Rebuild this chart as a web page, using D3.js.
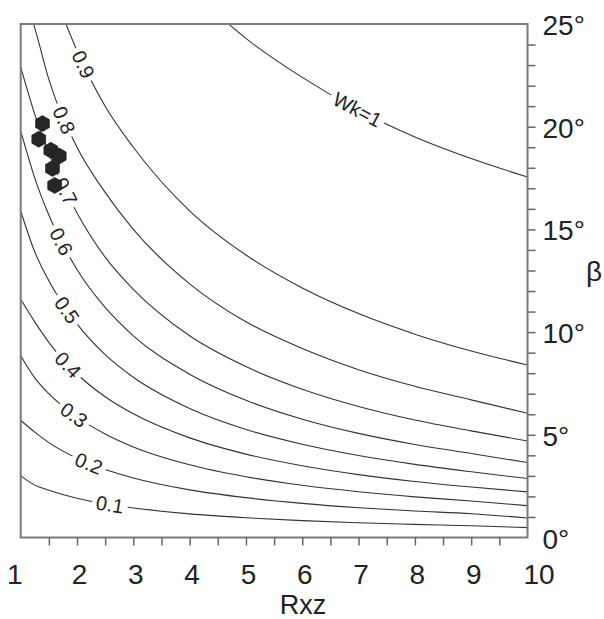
<!DOCTYPE html>
<html><head><meta charset="utf-8">
<script src="https://cdn.jsdelivr.net/npm/d3@7"></script>
<style>body{margin:0;background:#fff} svg{display:block}</style>
</head><body><svg id="c" width="604" height="619"></svg>
<script>
// ---- data ----
const rxzGrid = [1, 1.25, 1.5, 2, 2.5, 3, 4, 5, 6, 7, 8, 9, 10];
const betaWk01 = [3.0, 2.55, 2.30, 1.91, 1.64, 1.44, 1.15, 0.96, 0.82, 0.72, 0.64, 0.57, 0.48];
const betaWk02 = [5.7, 5.13, 4.62, 3.86, 3.31, 2.90, 2.32, 1.94, 1.66, 1.45, 1.29, 1.16, 0.95];
const betaWk03 = [8.85, 7.77, 7.0, 5.86, 5.04, 4.41, 3.54, 2.96, 2.54, 2.23, 1.98, 1.78, 1.55];
const betaWk04 = [11.6, 10.5, 9.5, 7.96, 6.85, 6.02, 4.85, 4.06, 3.49, 3.06, 2.73, 2.46, 2.22];
const betaWk05 = [15.9, 13.9, 12.5, 10.4, 8.9, 7.8, 6.28, 5.26, 4.54, 3.99, 3.56, 3.2, 2.87];
const betaWk06 = [19.8, 17.5, 15.7, 13.05, 11.2, 9.82, 7.95, 6.68, 5.76, 5.07, 4.53, 4.09, 3.65];
const betaWk07 = [22.9, 20.6, 18.7, 15.8, 13.65, 12.08, 9.82, 8.32, 7.22, 6.38, 5.72, 5.19, 4.7];
const betaWk08 = [26.8, 24.8, 22.3, 19.0, 16.8, 15.0, 12.35, 10.5, 9.2, 8.17, 7.36, 6.7, 6.05];
const betaWk09 = [32.1, 29.5, 27.3, 23.7, 21.0, 19.0, 15.9, 13.75, 12.15, 10.9, 9.9, 9.08, 8.4];
const betaWk10 = [45, 41.8, 39.2, 35.3, 32.3, 30.0, 26.8, 24.3, 22.4, 20.8, 19.5, 18.45, 17.55];
const contourLabels = ["0.1", "0.2", "0.3", "0.4", "0.5", "0.6", "0.7", "0.8", "0.9", "Wk=1"];
const labelRxz = [2.585, 2.21, 1.945, 1.84, 1.82, 1.72, 1.8, 1.77, 2.11, 6.98];
const markerRxz = [1.387, 1.321, 1.535, 1.684, 1.564, 1.603];
const markerBeta = [20.15, 19.39, 18.85, 18.57, 17.97, 17.14];
const xTickLabels = [1, 2, 3, 4, 5, 6, 7, 8, 9, 10];
const yTickLabels = [0, 5, 10, 15, 20, 25];
const xMinorTicks = [1.5, 2, 2.5, 3, 3.5, 4, 4.5, 5, 5.5, 6, 6.5, 7, 7.5, 8, 8.5, 9, 9.5];
const yMinorTicks = [1, 2, 3, 4, 5, 6, 7, 8, 9, 10, 11, 12, 13, 14, 15, 16, 17, 18, 19, 20, 21, 22, 23, 24];
const xTitle = "Rxz";
const yTitle = "β";

const contours = [betaWk01, betaWk02, betaWk03, betaWk04, betaWk05, betaWk06, betaWk07, betaWk08, betaWk09, betaWk10];

// ---- drawing ----
const FONT = "'Liberation Sans', Arial, Helvetica, sans-serif";
const svg = d3.select("#c");
const x = d3.scaleLinear().domain([1, 10]).range([20.7, 527.5]);
const y = d3.scaleLinear().domain([0, 25]).range([537.5, 24]);

svg.append("defs").append("clipPath").attr("id", "plotclip")
  .append("rect").attr("x", x(1)).attr("y", y(25))
  .attr("width", x(10) - x(1)).attr("height", y(0) - y(25));

const line = d3.line().x(d => x(d[0])).y(d => y(d[1])).curve(d3.curveMonotoneX);
const gLines = svg.append("g").attr("clip-path", "url(#plotclip)");
const paths = contours.map(arr => gLines.append("path")
  .attr("d", line(rxzGrid.map((r, i) => [r, arr[i]])))
  .attr("fill", "none").attr("stroke", "#333").attr("stroke-width", 1.1).node());

// labels along curves with white gaps
function pointAtX(path, tx) {
  const L = path.getTotalLength();
  let lo = 0, hi = L;
  for (let k = 0; k < 40; k++) {
    const mid = (lo + hi) / 2;
    if (path.getPointAtLength(mid).x < tx) lo = mid; else hi = mid;
  }
  return (lo + hi) / 2;
}
const gLabels = svg.append("g");
paths.forEach((p, i) => {
  const len = pointAtX(p, x(labelRxz[i]));
  const c = p.getPointAtLength(len);
  const a = p.getPointAtLength(Math.max(0, len - 4));
  const b = p.getPointAtLength(len + 4);
  const ang = Math.atan2(b.y - a.y, b.x - a.x) * 180 / Math.PI;
  const g = gLabels.append("g").attr("transform", `translate(${c.x},${c.y}) rotate(${ang})`);
  const rect = g.append("rect").attr("fill", "#fff");
  const t = g.append("text").text(contourLabels[i])
    .attr("text-anchor", "middle").attr("dy", "0.35em")
    .attr("font-family", FONT).attr("font-size", 20).attr("fill", "#222");
  const bb = t.node().getBBox();
  rect.attr("x", bb.x - 4).attr("y", -7).attr("width", bb.width + 8).attr("height", 14);
});

// markers (hexagons)
const hex = d3.range(6).map(k => {
  const th = Math.PI / 6 + k * Math.PI / 3;
  return [8 * Math.cos(th), 8 * Math.sin(th)];
});
svg.append("g").selectAll("path").data(markerRxz).join("path")
  .attr("d", "M" + hex.map(p => p.join(",")).join("L") + "Z")
  .attr("transform", (d, i) => `translate(${x(d)},${y(markerBeta[i])})`)
  .attr("fill", "#262626").attr("stroke", "#111").attr("stroke-width", 0.6);

// frame
svg.append("rect").attr("x", x(1)).attr("y", y(25))
  .attr("width", x(10) - x(1)).attr("height", y(0) - y(25))
  .attr("fill", "none").attr("stroke", "#7a7a7a").attr("stroke-width", 2);

// axes ticks
const ax = svg.append("g").attr("transform", `translate(0,${y(0)})`)
  .call(d3.axisBottom(x).tickValues(xMinorTicks).tickSize(8).tickFormat(""));
ax.select(".domain").remove();
ax.selectAll("line").attr("stroke", "#666").attr("stroke-width", 1.5);
const ay = svg.append("g").attr("transform", `translate(${x(10)},0)`)
  .call(d3.axisRight(y).tickValues(yMinorTicks).tickSize(8).tickFormat(""));
ay.select(".domain").remove();
ay.selectAll("line").attr("stroke", "#666").attr("stroke-width", 1.5);

// tick labels
svg.append("g").selectAll("text").data(xTickLabels).join("text")
  .attr("x", (d, i) => i === 0 ? x(d) + 2 : (i === xTickLabels.length - 1 ? x(d) - 4 : x(d) + 2.5))
  .attr("y", 584)
  .attr("text-anchor", (d, i) => i === 0 ? "end" : (i === xTickLabels.length - 1 ? "start" : "middle"))
  .attr("font-family", FONT).attr("font-size", 28).attr("fill", "#222")
  .text(d => d);
svg.append("g").selectAll("text").data(yTickLabels).join("text")
  .attr("x", x(10) + 15).attr("y", d => y(d) + 11)
  .attr("font-family", FONT).attr("font-size", 28).attr("fill", "#222")
  .text(d => d + "°");

// titles
svg.append("text").attr("x", 303).attr("y", 614).attr("text-anchor", "middle")
  .attr("font-family", FONT).attr("font-size", 27).attr("fill", "#222").text(xTitle);
svg.append("text").attr("x", 594).attr("y", 281).attr("text-anchor", "middle")
  .attr("font-family", FONT).attr("font-size", 28).attr("fill", "#222").text(yTitle);
</script></body></html>
